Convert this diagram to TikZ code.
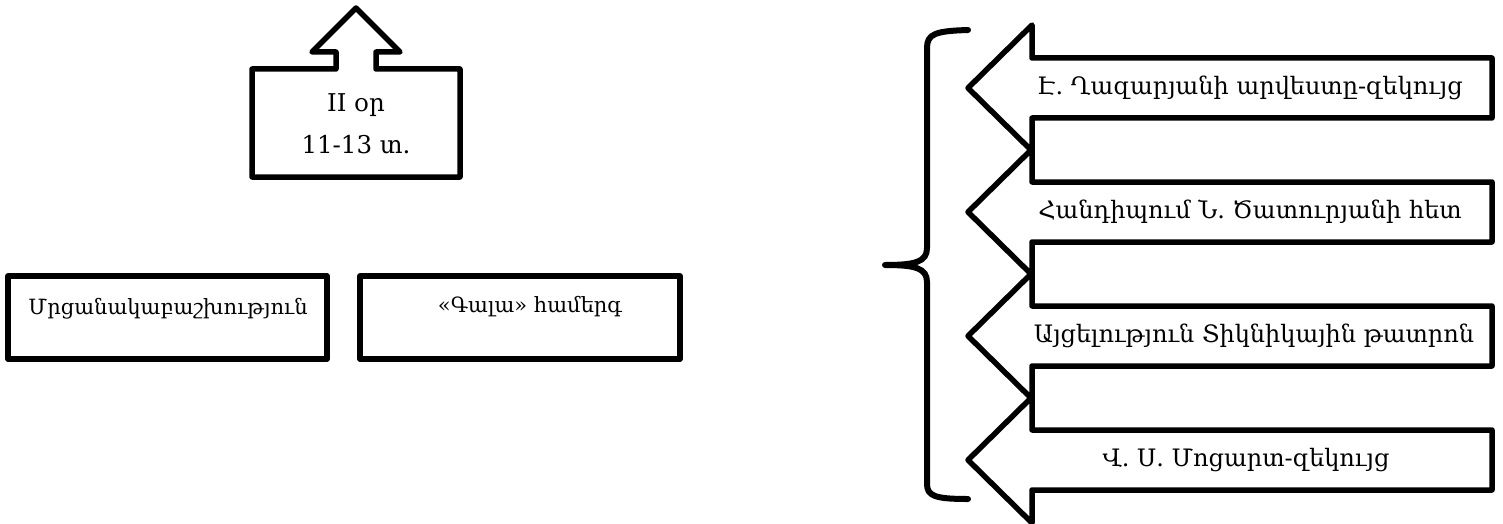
\documentclass[tikz,border=0pt]{standalone}
\usepackage{fontspec}
\setmainfont{DejaVu Serif}
\begin{document}
\begin{tikzpicture}[x=1pt,y=-1pt,line join=round,
  outl/.style={draw=black,line width=5.5pt,fill=white},
  bracestyle/.style={draw=black,line width=6pt,line cap=round},
  lbl/.style={align=center,inner sep=0pt},
  big/.style={font=\fontsize{24.5}{42}\selectfont},
  mid/.style={font=\fontsize{21}{26}\selectfont},
  arr/.style={font=\fontsize{24}{28}\selectfont}]
\useasboundingbox[fill=white] (0,0) rectangle (1503,524);
% up arrow box
\draw[outl] (252,69) -- (336,69) -- (336,52) -- (312,52) -- (356,8) -- (400,52) -- (376,52) -- (376,69) -- (460,69) -- (460,177) -- (252,177) -- cycle;
\node[lbl,big] (day) at (356,124) {II օր\\11-13 տ.};
% left boxes
\draw[outl] (8,276) rectangle (327,359);
\node[lbl,mid] (award) at (168,309) {Մրցանակաբաշխություն};
\draw[outl] (360,276) rectangle (680,359);
\node[lbl,mid] (gala) at (530,307) {«Գալա» համերգ};
% brace
\draw[bracestyle] (968,30) .. controls (935,31) and (927,34) .. (927,48) -- (927,248) .. controls (927,262) and (915,265) .. (885,265) .. controls (915,265) and (927,268) .. (927,282) -- (927,484) .. controls (927,496) and (935,499) .. (968,499);
% left arrows
\foreach \cy in {88,212,336,460}{
  \draw[outl] (1492,\cy-30) -- (1032,\cy-30) -- (1032,\cy-63) -- (968,\cy) -- (1032,\cy+63) -- (1032,\cy+30) -- (1492,\cy+30) -- cycle;
}
\node[lbl,arr] (t1) at (1250,88) {Է. Ղազարյանի արվեստը-զեկույց};
\node[lbl,arr] (t2) at (1250,212) {Հանդիպում Ն. Ծատուրյանի հետ};
\node[lbl,arr] (t3) at (1254,336) {Այցելություն Տիկնիկային թատրոն};
\node[lbl,arr] (t4) at (1246,460) {Վ. Ս. Մոցարտ-զեկույց};
\end{tikzpicture}
\end{document}
